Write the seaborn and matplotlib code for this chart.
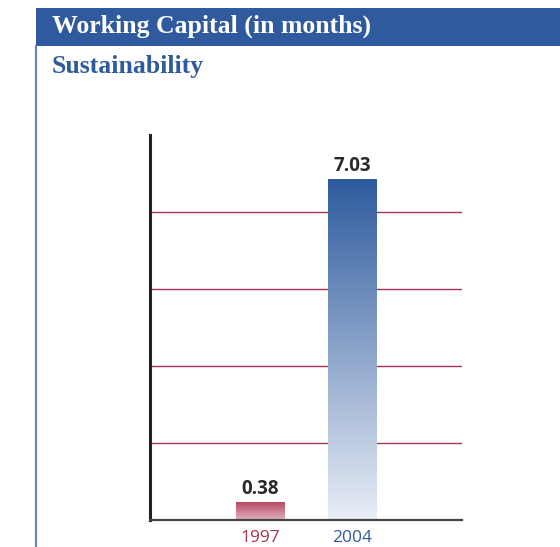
import numpy as np
import seaborn as sns
import matplotlib.pyplot as plt
from matplotlib.patches import Rectangle
from matplotlib.lines import Line2D
from matplotlib.colors import LinearSegmentedColormap

# data
years = ["1997", "2004"]
values = [0.38, 7.03]
title = "Working Capital (in months)"
subtitle = "Sustainability"

blue = "#2f5a9e"
red = "#a8354f"

sns.set_theme(style="white")
plt.rcParams['font.family'] = ['Open Sans', 'DejaVu Sans']

fig = plt.figure(figsize=(5.6, 5.47), dpi=100)

# title bar + left rule
fig.patches.append(Rectangle((36/560, 1-46/547), 1, 38/547, transform=fig.transFigure,
                             facecolor=blue, edgecolor='none'))
fig.lines.append(Line2D([36/560, 36/560], [0, 1-46/547], transform=fig.transFigure,
                        color="#6a86c0", lw=1.6))
fig.text(52/560, 1-33/547, title, color="white", fontsize=18.5, fontweight='bold',
         family='Liberation Serif', va='baseline', ha='left')
fig.text(52/560, 1-73/547, subtitle, color=blue, fontsize=18.5, fontweight='bold',
         family='Liberation Serif', va='baseline', ha='left')

ax = fig.add_axes([150/560, 1-520/547, 312/560, 385/547])
sns.barplot(x=years, y=values, width=0.53, ax=ax, color="white")

ymax = 7.93
for k in range(1, 5):
    ax.axhline(ymax * k / 5, color=red, lw=1.0, zorder=0.5)

cmaps = [LinearSegmentedColormap.from_list("r", ["#e6b3c0", "#b2445e"]),
         LinearSegmentedColormap.from_list("b", ["#e9eef7", "#2d5a9d"])]
grad = np.linspace(0, 1, 256).reshape(-1, 1)
for bar, cm in zip(ax.patches, cmaps):
    x0, y0 = bar.get_x(), bar.get_y()
    w, h = bar.get_width(), bar.get_height()
    im = ax.imshow(grad, cmap=cm, origin='lower', aspect='auto',
                   extent=[x0, x0 + w, y0, y0 + h], zorder=2)
    im.set_clip_path(bar)
    bar.set_facecolor('none')
    bar.set_edgecolor('none')
    ax.annotate(f"{h:.2f}", (x0 + w / 2, h), xytext=(0, 8), textcoords='offset pixels',
                ha='center', va='baseline', fontsize=13.5, fontweight='bold', color="#2a2a2a")
ax.set_xlim(-1.2, 2.19)
ax.set_ylim(0, ymax)

ax.set_yticks([])
ax.tick_params(axis='x', length=0, pad=7, labelsize=12.5)
for lab, c in zip(ax.get_xticklabels(), [red, blue]):
    lab.set_color(c)
ax.set_xlabel("")
ax.set_ylabel("")
for s in ["top", "right"]:
    ax.spines[s].set_visible(False)
ax.spines["left"].set_color("#222222")
ax.spines["left"].set_linewidth(2.2)
ax.spines["bottom"].set_color("#444444")
ax.spines["bottom"].set_linewidth(1.6)

fig.savefig("out.png", dpi=100)
